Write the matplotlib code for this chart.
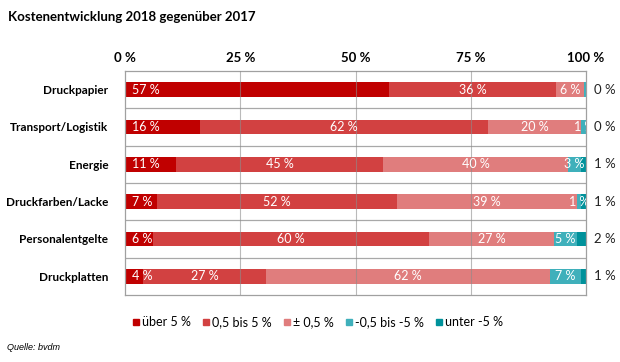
import matplotlib
matplotlib.use("Agg")
import matplotlib.pyplot as plt
import numpy as np
from matplotlib.lines import Line2D

plt.rcParams["font.family"] = ["Lato", "DejaVu Sans"]

# Kostenentwicklung 2018 gegenueber 2017, Anteile in Prozent
categories = ["Druckpapier", "Transport/Logistik", "Energie",
              "Druckfarben/Lacke", "Personalentgelte", "Druckplatten"]
series_names = ["über 5 %", "0,5 bis 5 %", "± 0,5 %", "-0,5 bis -5 %", "unter -5 %"]
ueber5 = [57, 16, 11, 7, 6, 4]
bis5 = [36, 62, 45, 52, 60, 27]
pm05 = [6, 20, 40, 39, 27, 62]
minus5 = [0.5, 1, 3, 1, 5, 7]
unter5 = [0, 0, 1, 1, 2, 1]
ticks = [0, 25, 50, 75, 100]

colors = ["#c00000", "#d24141", "#e07d7d", "#3fb0bb", "#00929b"]

values = np.array([ueber5, bis5, pm05, minus5, unter5], dtype=float)
shares = values / values.sum(axis=0) * 100

fig = plt.figure(figsize=(6.2, 3.62), dpi=100)
ax = fig.add_axes([0.2016, 0.1851, 0.7436, 0.6188])

y = np.arange(len(categories))
left = np.zeros(len(categories))
for i, (name, col) in enumerate(zip(series_names, colors)):
    ax.barh(y, shares[i], left=left, height=0.4, color=col, zorder=2)
    if i < 4:
        for j in range(len(categories)):
            if values[i, j] < 1:
                continue
            label = "%d %%" % values[i, j]
            if i == 0:
                ax.text(1.5, y[j], label, color="white", fontsize=9,
                        ha="left", va="center", zorder=4, clip_on=True)
            else:
                ax.text(left[j] + shares[i, j] / 2, y[j], label, color="white",
                        fontsize=9, ha="center", va="center", zorder=4,
                        clip_on=True)
    left += shares[i]

# Wert "unter -5 %" rechts neben den Balken
for j in range(len(categories)):
    ax.text(101.8, y[j], "%d %%" % unter5[j], fontsize=9.5, ha="left",
            va="center", color="#222222", clip_on=False)

ax.set_xlim(0, 100)
ax.set_ylim(len(categories) - 0.5, -0.5)
for xv in ticks[1:-1]:
    ax.axvline(xv, color="#8c8c8c", lw=0.8, alpha=0.6, zorder=3)
for yv in np.arange(0.5, len(categories) - 0.5):
    ax.axhline(yv, color="#a8a8a8", lw=0.9, zorder=1)
for side in ax.spines.values():
    side.set_color("#a0a0a0")
    side.set_linewidth(0.9)

ax.xaxis.tick_top()
ax.set_xticks(ticks)
ax.set_xticklabels(["%d %%" % t for t in ticks], fontweight="bold", fontsize=9.5)
ax.set_yticks(y)
ax.set_yticklabels(categories, fontweight="bold", fontsize=8.5)
ax.tick_params(axis="x", length=0, pad=5)
ax.tick_params(axis="y", length=0, pad=12)

fig.text(0.013, 0.953, "Kostenentwicklung 2018 gegenüber 2017",
         fontsize=9.5, fontweight="bold", va="center")

handles = [Line2D([], [], marker="s", ls="", color=c, markersize=5)
           for c in colors]
fig.legend(handles, series_names, loc="center", bbox_to_anchor=(0.51, 0.11),
           ncol=5, frameon=False, fontsize=9, handletextpad=0.0,
           columnspacing=0.7, handlelength=1)

fig.text(0.011, 0.04, "Quelle: bvdm", fontsize=6.5, style="italic",
         family=["Liberation Sans", "DejaVu Sans"], va="center")

fig.savefig("out.png", dpi=100)
